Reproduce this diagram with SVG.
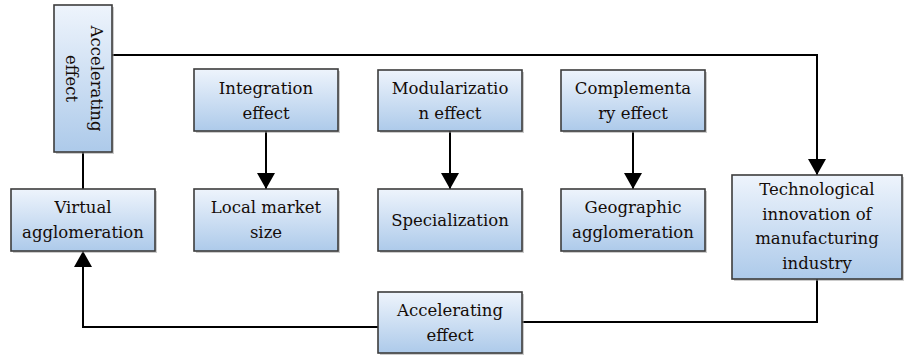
<svg xmlns="http://www.w3.org/2000/svg" width="906" height="360" viewBox="0 0 906 360">
<defs>
<linearGradient id="g" x1="0" y1="0" x2="0" y2="1">
<stop offset="0" stop-color="#eef4fc"/>
<stop offset="1" stop-color="#adcaea"/>
</linearGradient>
<marker id="ah" viewBox="0 0 16 18" refX="16" refY="9" markerWidth="16" markerHeight="18" markerUnits="userSpaceOnUse" orient="auto">
<path d="M0,0 L16,9 L0,18 Z" fill="#000"/>
</marker>
</defs>
<style>
.box{fill:url(#g);stroke:#3c3c3c;stroke-width:1.6}
.sh{fill:#9a9a9a;opacity:0.5}
.t{font-family:'DejaVu Serif',serif;font-size:16.5px;fill:#140c08;text-anchor:middle}
.c{fill:none;stroke:#000;stroke-width:2}
</style>
<rect width="906" height="360" fill="#fff"/>
<g id="connectors">
<path class="c" d="M112,55 H817 V175" marker-end="url(#ah)"/>
<path class="c" d="M83,152 V189"/>
<path class="c" d="M266,131 V189" marker-end="url(#ah)"/>
<path class="c" d="M450,131 V189" marker-end="url(#ah)"/>
<path class="c" d="M633,131 V189" marker-end="url(#ah)"/>
<path class="c" d="M817,279 V322 H522"/>
<path class="c" d="M378,327 H83 V251" marker-end="url(#ah)"/>
</g>
<g id="n_acc_v">
<rect class="sh" x="56" y="7" width="58" height="147"/>
<rect class="box" x="54" y="5" width="58" height="147"/>
<g transform="translate(83,78.5) rotate(90)">
<text class="t" x="0" y="-8">Accelerating</text>
<text class="t" x="0" y="17">effect</text>
</g>
</g>
<g id="n_virtual">
<rect class="sh" x="13" y="191" width="144" height="62"/>
<rect class="box" x="11" y="189" width="144" height="62"/>
<text class="t" x="83" y="213">Virtual</text>
<text class="t" x="83" y="238">agglomeration</text>
</g>
<g id="n_integration">
<rect class="sh" x="196" y="71" width="144" height="62"/>
<rect class="box" x="194" y="69" width="144" height="62"/>
<text class="t" x="266" y="94">Integration</text>
<text class="t" x="266" y="119">effect</text>
</g>
<g id="n_local">
<rect class="sh" x="196" y="191" width="144" height="62"/>
<rect class="box" x="194" y="189" width="144" height="62"/>
<text class="t" x="266" y="213">Local market</text>
<text class="t" x="266" y="238">size</text>
</g>
<g id="n_modular">
<rect class="sh" x="380" y="72" width="144" height="61"/>
<rect class="box" x="378" y="70" width="144" height="61"/>
<text class="t" x="450" y="94">Modularizatio</text>
<text class="t" x="450" y="119">n effect</text>
</g>
<g id="n_special">
<rect class="sh" x="380" y="191" width="144" height="62"/>
<rect class="box" x="378" y="189" width="144" height="62"/>
<text class="t" x="450" y="226">Specialization</text>
</g>
<g id="n_complement">
<rect class="sh" x="563" y="72" width="144" height="61"/>
<rect class="box" x="561" y="70" width="144" height="61"/>
<text class="t" x="633" y="94">Complementa</text>
<text class="t" x="633" y="119">ry effect</text>
</g>
<g id="n_geo">
<rect class="sh" x="563" y="191" width="144" height="62"/>
<rect class="box" x="561" y="189" width="144" height="62"/>
<text class="t" x="633" y="213">Geographic</text>
<text class="t" x="633" y="238">agglomeration</text>
</g>
<g id="n_tech">
<rect class="sh" x="734" y="177" width="170" height="104"/>
<rect class="box" x="732" y="175" width="170" height="104"/>
<text class="t" x="817" y="195">Technological</text>
<text class="t" x="817" y="220">innovation of</text>
<text class="t" x="817" y="244">manufacturing</text>
<text class="t" x="817" y="269">industry</text>
</g>
<g id="n_acc_h">
<rect class="sh" x="380" y="294" width="144" height="61"/>
<rect class="box" x="378" y="292" width="144" height="61"/>
<text class="t" x="450" y="316">Accelerating</text>
<text class="t" x="450" y="341">effect</text>
</g>
</svg>
